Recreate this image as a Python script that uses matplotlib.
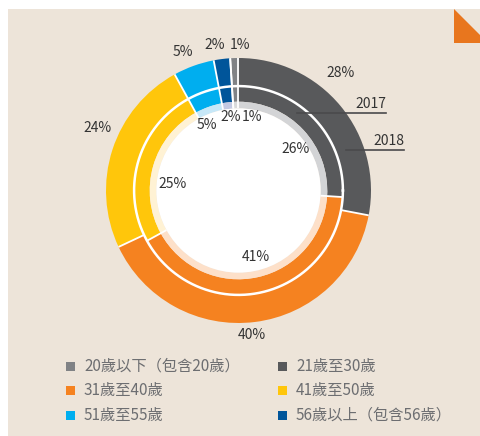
import numpy as np
import matplotlib.pyplot as plt
from matplotlib.patches import Rectangle, Polygon, Circle

plt.rcParams['font.family'] = ['Noto Sans CJK TC', 'DejaVu Sans']

# Age groups and their shares (%) for each year
groups = ['20歲以下（包含20歲）', '21歲至30歲', '31歲至40歲',
          '41歲至50歲', '51歲至55歲', '56歲以上（包含56歲）']
share_2018 = [1, 28, 40, 24, 5, 2]
share_2017 = [1, 26, 41, 25, 5, 2]

colors = ['#808285', '#58595b', '#f58220', '#ffc60b', '#00aeef', '#00559a']
pale_colors = ['#d9dadb', '#d3d4d6', '#fde0c9', '#fff2d4', '#c7e8f8', '#c3c9e3']

W, H = 481, 436
CX, CY, R = 238.5, 190.5, 132.5


def px(x, y):
    # pixel position (from top-left) -> data coordinates
    return (x - CX) / R, (CY - y) / R


fig = plt.figure(figsize=(W / 100, H / 100), dpi=100)
fig.patch.set_facecolor('white')
ax = fig.add_axes([0, 0, 1, 1])
ax.axis('off')

# paper background and folded corner
x0, y0 = px(8, 9)
x1, y1 = px(W, H)
ax.add_patch(Rectangle((x0, y1), x1 - x0, y0 - y1, facecolor='#ede4d9',
                       edgecolor='none', zorder=0))
ax.add_patch(Polygon([px(454, 9), px(481, 36), px(481, 43), px(454, 43)],
                     closed=True, facecolor='#e8761e', edgecolor='none', zorder=1))

r_out_in = 0.788
r_in_mid = 0.67
r_in_in = 0.62
start = 90 + 360 * share_2018[0] / 100

# 2018 outer ring
ax.pie(share_2018, colors=colors, radius=1.0, startangle=start, counterclock=False,
       wedgeprops=dict(width=1.0 - r_out_in, edgecolor='none'))
# 2017 inner ring: saturated band and pale band
ax.pie(share_2017, colors=colors, radius=r_out_in, startangle=start, counterclock=False,
       wedgeprops=dict(width=r_out_in - r_in_mid, edgecolor='none'))
ax.pie(share_2017, colors=pale_colors, radius=r_in_mid, startangle=start, counterclock=False,
       wedgeprops=dict(width=r_in_mid - r_in_in, edgecolor='none'))
ax.add_patch(Circle((0, 0), r_in_in, facecolor='white', edgecolor='none', zorder=3))
ax.set_xlim(px(0, 0)[0], px(W, 0)[0])
ax.set_ylim(px(0, H)[1], px(0, 0)[1])
ax.set_aspect('equal', adjustable='datalim')

# white separators between wedges and between the rings
for shares, r0, r1 in [(share_2018, r_out_in, 1.0), (share_2017, r_in_in, r_out_in)]:
    bounds = start - 360 * np.cumsum([0] + shares) / 100
    for a in np.deg2rad(bounds):
        ax.plot([r0 * np.cos(a), r1 * np.cos(a)], [r0 * np.sin(a), r1 * np.sin(a)],
                color='white', lw=1.3, zorder=4, solid_capstyle='butt')
t = np.linspace(0, 2 * np.pi, 400)
ax.plot(r_out_in * np.cos(t), r_out_in * np.sin(t), color='white', lw=1.8, zorder=4)

# value labels
outer_pos = [(240, 45), (341, 73), (252, 335), (97, 128), (183, 52), (215, 45)]
inner_pos = [(252, 117), (296, 149), (256, 257), (173, 184), (207, 125), (231, 117)]
for vals, pos in [(share_2018, outer_pos), (share_2017, inner_pos)]:
    for v, (x, y) in zip(vals, pos):
        ax.text(*px(x, y), f'{v}%', ha='center', va='center', fontsize=10,
                color='#333333', zorder=5)

# year call-outs
ax.plot(*zip(px(297, 113), px(386, 113)), color='#4a4a4c', lw=1.2, zorder=5)
ax.text(*px(386, 104), '2017', ha='right', va='center', fontsize=10, color='#333333', zorder=5)
ax.plot(*zip(px(346, 150), px(404, 150)), color='#4a4a4c', lw=1.2, zorder=5)
ax.text(*px(404, 141), '2018', ha='right', va='center', fontsize=10, color='#333333', zorder=5)

# legend, filled row by row
s = 9 / R
for i, (g, c) in enumerate(zip(groups, colors)):
    col, row = i % 2, i // 2
    mx = 66 if col == 0 else 278
    my = 366 + row * 24.5
    bx, by = px(mx, my + 4.5)
    ax.add_patch(Rectangle((bx, by), s, s, facecolor=c, edgecolor='none', zorder=5))
    ax.text(*px(mx + 18, my), g, ha='left', va='center', fontsize=11,
            color='#6d6e71', zorder=5)

fig.savefig('out.png', dpi=100, facecolor=fig.get_facecolor())
